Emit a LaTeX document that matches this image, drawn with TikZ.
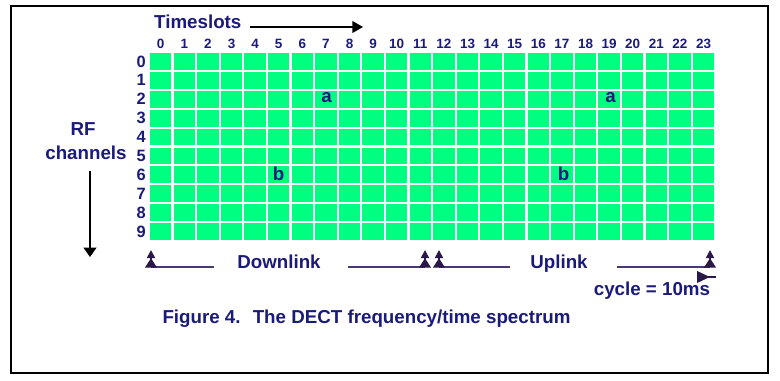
\documentclass[tikz,border=0pt]{standalone}
\usepackage{fontspec}
\setmainfont{Liberation Sans}
\usetikzlibrary{arrows.meta}

\definecolor{slotgreen}{RGB}{0,255,128}
\definecolor{labelblue}{RGB}{26,26,122}
\definecolor{spanline}{RGB}{72,58,112}
\definecolor{markdark}{RGB}{42,24,72}

\tikzset{
  lbl/.style={font=\bfseries\fontsize{16}{18}\selectfont, text=labelblue, inner sep=0pt},
  colnum/.style={font=\bfseries\fontsize{11.5}{13}\selectfont, text=labelblue, inner sep=0pt},
  rownum/.style={font=\bfseries\fontsize{14}{16}\selectfont, text=labelblue, inner sep=0pt},
  spanmark/.style={markdark, line width=1.4pt, -{Triangle[width=10pt,length=8pt] Triangle[width=7pt,length=7pt]}},
  spanbar/.style={spanline, line width=1pt},
}

\begin{document}
\begin{tikzpicture}[x=0.03cm, y=-0.03cm]
            \useasboundingbox (0,0) rectangle (780,380);
            % frame
            \draw[line width=2pt] (11,6) rectangle (768,373);

            % slot grid
            \foreach \c in {0,...,23} {
              \foreach \r in {0,...,9} {
                \fill[slotgreen] (150+\c*23.6,53+\r*18.9) rectangle ++(21.4,16.8);
              }
            }

            % timeslot and channel numbers
            \foreach \c in {0,...,23} {
              \node[colnum, anchor=base] (t\c) at (160.7+\c*23.6,48.5) {\c};
            }
            \foreach \r in {0,...,9} {
              \node[rownum, anchor=east] (f\r) at (146,61.4+\r*18.9) {\r};
            }

            % slot pairs
            \node[lbl] (a1) at (326.5,98) {a};
            \node[lbl] (a2) at (610.5,98) {a};
            \node[lbl] (b1) at (278.5,174) {b};
            \node[lbl] (b2) at (563.5,174) {b};

            % axis titles
            \node[lbl, anchor=base west] (ts) at (154,28) {Timeslots};
            \coordinate (ts-a) at (250,27);
            \coordinate (ts-b) at (363,27);
            \draw[line width=1pt, -{Triangle[width=10pt,length=9pt]}] (ts-a) -- (ts-b);

            \node[lbl, anchor=base] (rf) at (83,135) {RF};
            \node[lbl, anchor=base] (ch) at (86,159) {channels};
            \coordinate (ch-a) at (90,171);
            \coordinate (ch-b) at (90,257);
            \draw[line width=1pt, -{Triangle[width=11pt,length=8pt]}] (ch-a) -- (ch-b);

            % downlink / uplink spans
            \node[lbl, anchor=base] (dl) at (279,268) {Downlink};
            \node[lbl, anchor=base] (ul) at (559,268) {Uplink};
            \coordinate (m0) at (151,267);
            \coordinate (m1) at (425,267);
            \coordinate (m2) at (439,267);
            \coordinate (m3) at (710,267);
            \coordinate (dl-l) at (214,267);
            \coordinate (dl-r) at (348,267);
            \coordinate (ul-l) at (510,267);
            \coordinate (ul-r) at (617,267);
            \draw[spanbar] (m0) -- (dl-l);
            \draw[spanbar] (dl-r) -- (m1);
            \draw[spanbar] (m2) -- (ul-l);
            \draw[spanbar] (ul-r) -- (m3);
            \foreach \m in {m0,m1,m2,m3} {
              \draw[spanmark] (\m) -- ++(0,-17);
            }

            % cycle
            \coordinate (cy-a) at (697,277);
            \coordinate (cy-b) at (716,277);
            \draw[markdark, line width=1.2pt, {Triangle[reversed,width=10pt,length=11pt]}-] (cy-a) -- (cy-b);
            \node[lbl, anchor=base] (cy) at (652,295) {cycle = 10ms};

            % caption
            \node[lbl, anchor=base] (cap) at (366.5,323) {Figure 4.~ The DECT frequency/time spectrum};
\end{tikzpicture}
\end{document}
